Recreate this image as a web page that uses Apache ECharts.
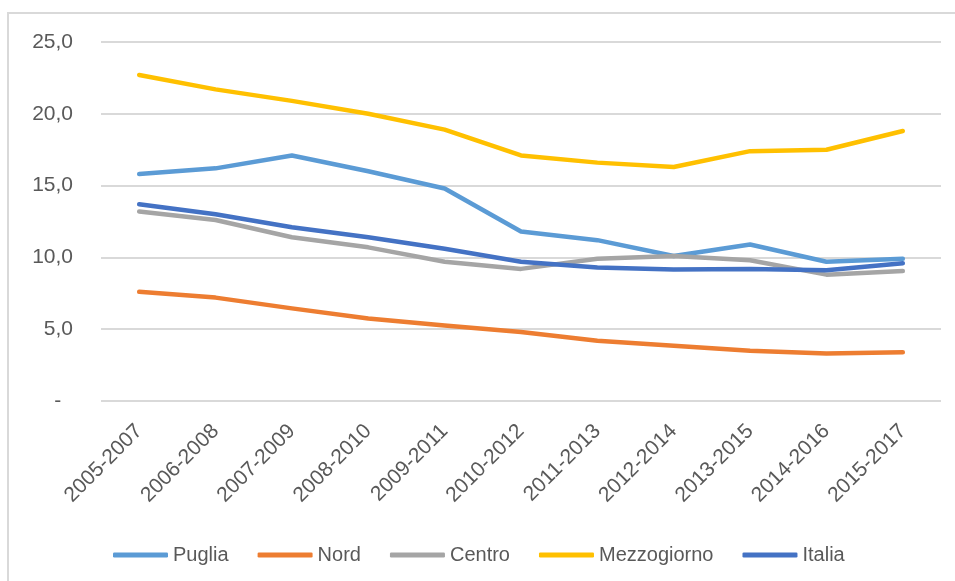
<!DOCTYPE html>
<html>
<head>
<meta charset="utf-8">
<script src="https://cdn.jsdelivr.net/npm/echarts@6/dist/echarts.min.js"></script>
<style>
html,body{margin:0;padding:0;background:#fff;}
#chart{width:955px;height:581px;}
</style>
</head>
<body>
<div id="chart"></div>
<script>
var categories = ['2005-2007','2006-2008','2007-2009','2008-2010','2009-2011','2010-2012','2011-2013','2012-2014','2013-2015','2014-2016','2015-2017'];
var puglia      = [15.8, 16.2, 17.1, 16.0, 14.8, 11.8, 11.2, 10.1, 10.9, 9.7, 9.9];
var nord        = [7.6, 7.2, 6.45, 5.75, 5.25, 4.8, 4.2, 3.85, 3.5, 3.3, 3.4];
var centro      = [13.2, 12.6, 11.4, 10.7, 9.7, 9.2, 9.9, 10.1, 9.8, 8.8, 9.05];
var mezzogiorno = [22.7, 21.7, 20.9, 20.0, 18.9, 17.1, 16.6, 16.3, 17.4, 17.5, 18.8];
var italia      = [13.7, 13.0, 12.1, 11.4, 10.6, 9.7, 9.3, 9.15, 9.2, 9.1, 9.6];
var seriesNames = ['Puglia','Nord','Centro','Mezzogiorno','Italia'];
var seriesData  = [puglia, nord, centro, mezzogiorno, italia];
var colors      = ['#5B9BD5','#ED7D31','#A5A5A5','#FFC000','#4472C4'];

var FONT = '"Liberation Sans", Arial, sans-serif';
var chart = echarts.init(document.getElementById('chart'), null, {renderer:'canvas'});
chart.setOption({
  animation: false,
  backgroundColor: '#ffffff',
  color: colors,
  graphic: [{
    type: 'rect',
    shape: {x: 8, y: 13, width: 960, height: 600},
    style: {fill: 'none', stroke: '#d9d9d9', lineWidth: 2},
    silent: true
  }],
  grid: {left: 101, right: 14, top: 42, bottom: 180, containLabel: false},
  xAxis: {
    type: 'category',
    data: categories,
    boundaryGap: true,
    axisLine: {show: false},
    axisTick: {show: false},
    axisLabel: {rotate: 45, margin: 27, fontSize: 21, color: '#595959', fontFamily: FONT, interval: 0}
  },
  yAxis: {
    type: 'value',
    min: 0, max: 25, interval: 5,
    axisLine: {show: false},
    axisTick: {show: false},
    splitLine: {lineStyle: {color: '#d9d9d9', width: 2}},
    axisLabel: {
      margin: 28, fontSize: 21, color: '#595959', fontFamily: FONT,
      formatter: function(v){ return v === 0 ? '-  ' : v.toFixed(1).replace('.', ','); }
    }
  },
  legend: {
    left: 108, top: 540,
    itemWidth: 55, itemHeight: 5, itemGap: 29,
    icon: 'roundRect',
    textStyle: {fontSize: 20, color: '#595959', fontFamily: FONT},
    data: seriesNames
  },
  series: seriesNames.map(function(n, i){
    return {
      name: n, type: 'line', data: seriesData[i],
      symbol: 'none', smooth: false,
      lineStyle: {width: 4.5, color: colors[i], cap: 'round', join: 'round'},
      itemStyle: {color: colors[i]}
    };
  })
});
</script>
</body>
</html>
